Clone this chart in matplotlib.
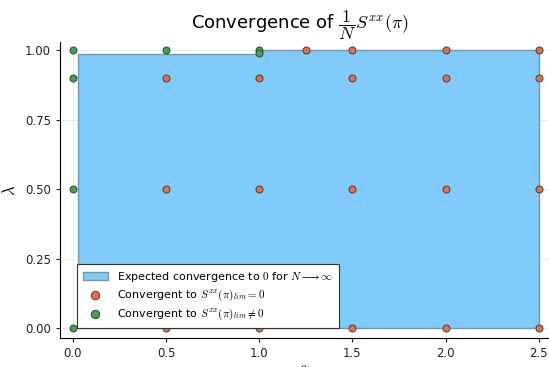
import matplotlib
matplotlib.use("Agg")
import matplotlib.pyplot as plt

plt.rcParams['mathtext.fontset'] = 'cm'
plt.rcParams['font.family'] = ['DejaVu Sans']

# region where convergence to 0 is expected
region_x = [0.03, 0.03, 1.0, 1.0, 2.5, 2.5]
region_y = [0.0, 0.985, 0.985, 1.0, 1.0, 0.0]

# points converging to 0
zero_x = [0.5, 0.5, 0.5, 1.0, 1.0, 1.0, 1.25, 1.5, 1.5, 1.5, 1.5,
          2.0, 2.0, 2.0, 2.0, 2.5, 2.5, 2.5, 2.5]
zero_y = [0.0, 0.5, 0.9, 0.0, 0.5, 0.9, 1.0, 0.0, 0.5, 0.9, 1.0,
          0.0, 0.5, 0.9, 1.0, 0.0, 0.5, 0.9, 1.0]

# points converging to non-zero
nonzero_x = [0.0, 0.0, 0.0, 0.0, 0.5, 1.0, 1.0]
nonzero_y = [0.0, 0.5, 0.9, 1.0, 1.0, 1.0, 0.99]

xticks = [0.0, 0.5, 1.0, 1.5, 2.0, 2.5]
yticks = [0.0, 0.25, 0.5, 0.75, 1.0]

fig = plt.figure(figsize=(5.49, 3.67), dpi=100)
ax = fig.add_axes([0.109, 0.079, 0.891, 0.807])

ax.fill(region_x, region_y, facecolor='#80cbfb', edgecolor='#7a97aa', linewidth=1.0,
        label=r'Expected convergence to $0$ for $N \longrightarrow \infty$', zorder=2)
ax.scatter(zero_x, zero_y, s=26, color='#e26f46', edgecolor='#333333', linewidth=0.6,
           label=r'Convergent to $S^{xx}(\pi)_{lim} = 0$', zorder=3)
ax.scatter(nonzero_x, nonzero_y, s=26, color='#3da44d', edgecolor='#333333', linewidth=0.6,
           label=r'Convergent to $S^{xx}(\pi)_{lim} \neq 0$', zorder=3)

ax.set_xlim(-0.07, 2.555)
ax.set_ylim(-0.035, 1.03)
ax.set_xticks(xticks)
ax.set_yticks(yticks)
ax.set_xticklabels(['0.0', '0.5', '1.0', '1.5', '2.0', '2.5'])
ax.set_yticklabels(['0.00', '0.25', '0.50', '0.75', '1.00'])
ax.tick_params(direction='out', length=3, labelsize=8.5, colors='#222222')
ax.grid(True, color='#000000', alpha=0.08, linewidth=0.6)
ax.set_axisbelow(True)
for s in ['top', 'right']:
    ax.spines[s].set_visible(False)

ax.set_xlabel(r'$\alpha$', fontsize=12, labelpad=0)
ax.set_ylabel(r'$\lambda$', fontsize=12, labelpad=4)
ax.set_title(r'Convergence of $\dfrac{1}{N}S^{xx}(\pi)$', fontsize=13, pad=4, x=0.49)

leg = ax.legend(loc='lower left', bbox_to_anchor=(0.035, 0.034), borderaxespad=0,
                fontsize=8, fancybox=False, framealpha=1, edgecolor='#333333',
                handlelength=2.3, borderpad=0.5, labelspacing=0.35, markerscale=1.2)
leg.get_frame().set_linewidth(0.8)

fig.savefig('out.png', dpi=100)
